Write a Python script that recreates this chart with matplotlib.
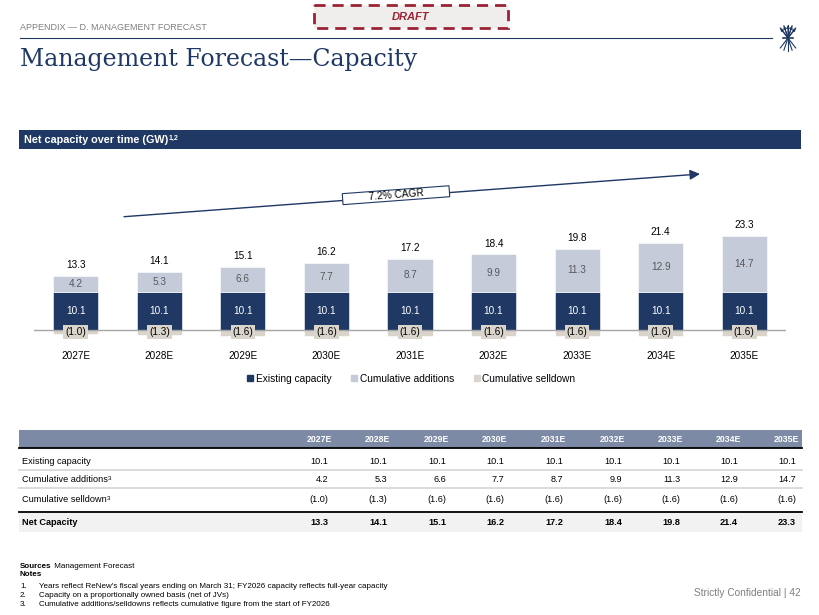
import math
import matplotlib
matplotlib.use('Agg')
import matplotlib.pyplot as plt
from matplotlib import font_manager
from matplotlib.patches import Rectangle
from matplotlib.lines import Line2D

# ---- data -----------------------------------------------------------------
years = ['2027E', '2028E', '2029E', '2030E', '2031E', '2032E', '2033E', '2034E', '2035E']
existing = [10.1, 10.1, 10.1, 10.1, 10.1, 10.1, 10.1, 10.1, 10.1]
additions = [4.2, 5.3, 6.6, 7.7, 8.7, 9.9, 11.3, 12.9, 14.7]
selldown = [-1.0, -1.3, -1.6, -1.6, -1.6, -1.6, -1.6, -1.6, -1.6]
net = [13.3, 14.1, 15.1, 16.2, 17.2, 18.4, 19.8, 21.4, 23.3]
series_names = ['Existing capacity', 'Cumulative additions', 'Cumulative selldown']
row_labels = ['Existing capacity', 'Cumulative additions', 'Cumulative selldown', 'Net Capacity']
row_sup = ['', '3', '3', '']
cagr_label = '7.2% CAGR'
notes = [
    "Years reflect ReNew's fiscal years ending on March 31; FY2026 capacity reflects full-year capacity",
    "Capacity on a proportionally owned basis (net of JVs)",
    "Cumulative additions/selldowns reflects cumulative figure from the start of FY2026",
]

NAVY = '#1f3864'
ADD = '#c6cbd9'
SELL = '#d9d5cc'
HEAD = '#7d8aa5'
MAROON = '#9b2335'
GREY = '#7f7f7f'

installed = {f.name for f in font_manager.fontManager.ttflist}
SANS = 'Liberation Sans' if 'Liberation Sans' in installed else 'DejaVu Sans'
if 'Liberation Sans Narrow' in installed:
    NARROW = 'Liberation Sans Narrow'
    body_fs, head_fs, note_fs = 7.6, 7.0, 6.8
else:
    NARROW = SANS
    body_fs, head_fs, note_fs = 6.6, 6.3, 5.75
plt.rcParams['font.family'] = [SANS, 'DejaVu Sans']


def fmt(v):
    if v < 0:
        return '({:.1f})'.format(abs(v))
    return '{:.1f}'.format(v)


fig = plt.figure(figsize=(8.2, 6.15), dpi=100)

# page overlay in pixel units
page = fig.add_axes([0, 0, 1, 1])
page.set_xlim(0, 820)
page.set_ylim(615, 0)
page.axis('off')

# header
page.text(20, 28, 'APPENDIX \u2014 D. MANAGEMENT FORECAST', fontsize=6.5, color=GREY, va='center')
page.add_patch(Rectangle((314, 5), 194, 23, fc='#f0eeec', ec=MAROON, lw=2, ls=(0, (4, 2.5))))
page.text(411, 17, 'DRAFT', fontsize=8, color=MAROON, fontweight='bold', style='italic',
          ha='center', va='center')
page.plot([20, 772], [38, 38], color=NAVY, lw=0.8)
page.text(20, 66, 'Management Forecast\u2014Capacity', family='DejaVu Serif', fontsize=17,
          color=NAVY, va='baseline')

# logo: a sheaf of arrows
cx, cy = 788, 38
for ang in [-40, -20, 0, 20, 40]:
    dx = 12 * math.sin(math.radians(ang))
    dy = 13 * math.cos(math.radians(ang))
    page.plot([cx - dx, cx + dx], [cy + dy, cy - dy], color=NAVY, lw=0.8)
    page.annotate('', xy=(cx + dx, cy - dy), xytext=(cx, cy),
                  arrowprops=dict(arrowstyle='-|>', color=NAVY, lw=0.8, shrinkA=0, shrinkB=0,
                                  mutation_scale=4))
page.plot([cx - 5, cx + 5], [cy, cy], color=NAVY, lw=1.2)

# band
page.add_patch(Rectangle((19, 130), 782, 19, fc=NAVY, ec='none'))
t = page.text(24.5, 140, 'Net capacity over time (GW)', fontsize=7.8, color='white',
              fontweight='bold', va='center')
page.annotate('1,2', xy=(1, 1), xycoords=t, fontsize=5, color='white', fontweight='bold',
              va='top', ha='left')

# ---- chart -----------------------------------------------------------------
PX = 3.79  # pixels per GW
ymin, ymax = -5, 27
bottom_px = 330 - ymin * PX
top_px = 330 - ymax * PX
ax = fig.add_axes([34 / 820, 1 - bottom_px / 615, 752 / 820, (bottom_px - top_px) / 615])
ax.set_facecolor('none')
x = list(range(len(years)))
w = 0.54
ax.bar(x, existing, width=w, color=NAVY, edgecolor='white', lw=0.4, zorder=2)
ax.bar(x, additions, width=w, bottom=existing, color=ADD, edgecolor='white', lw=0.4, zorder=2)
ax.bar(x, selldown, width=w, color=SELL, edgecolor='white', lw=0.4, zorder=2)
ax.axhline(0, color='#a6a6a6', lw=1, zorder=3)
ax.set_xlim(-0.5, len(years) - 0.5)
ax.set_ylim(ymin, ymax)
for s in ax.spines.values():
    s.set_visible(False)
ax.set_yticks([])
ax.set_xticks(x, years)
ax.tick_params(axis='x', length=0, pad=1.5, labelsize=7.2)

for i in x:
    e, a, s, n = existing[i], additions[i], selldown[i], net[i]
    ax.text(i, e / 2, fmt(e), ha='center', va='center', color='white', fontsize=7.2, zorder=4)
    ax.text(i, e + a / 2, fmt(a), ha='center', va='center', color='#595959', fontsize=7.2, zorder=4)
    ax.text(i, -0.65, fmt(s), ha='center', va='center', color='black', fontsize=7.2, zorder=4,
            bbox=dict(boxstyle='square,pad=0.2', fc=SELL, ec='none'))
    ax.annotate(fmt(n), (i, e + a), xytext=(0, 7.6), textcoords='offset points',
                ha='center', va='center', fontsize=7.2, color='black')

# CAGR arrow
page.annotate('', xy=(700, 174), xytext=(124, 216.7),
              arrowprops=dict(arrowstyle='-|>,head_length=0.6,head_width=0.3', color=NAVY, lw=1,
                              shrinkA=0, shrinkB=0, mutation_scale=10))
page.add_patch(Rectangle((396 - 53.5, 195.2 - 5.5), 107, 11, angle=-4.24, rotation_point='center',
                         fc='white', ec=NAVY, lw=0.8, zorder=3))
page.text(396, 195.2, cagr_label, rotation=4.24, rotation_mode='anchor', ha='center', va='center',
          fontsize=7.3, zorder=4)

handles = [Line2D([], [], marker='s', ls='none', markersize=4, mfc=c, mec=c) for c in [NAVY, ADD, SELL]]
fig.legend(handles, series_names, loc='center', bbox_to_anchor=(411.5 / 820, 1 - 379 / 615), ncol=3,
           frameon=False, fontsize=7.3, handlelength=0.5, handletextpad=0.3, columnspacing=2.0,
           borderaxespad=0, borderpad=0)

# ---- table -----------------------------------------------------------------
col_right = [331.7, 390, 449, 507, 566, 625, 683, 741, 799]
page.add_patch(Rectangle((19, 430), 783, 17.7, fc=HEAD, ec='none'))
for cr, yr in zip(col_right, years):
    page.text(cr, 439, yr, family=NARROW, fontsize=head_fs, fontweight='bold', color='white',
              ha='right', va='center')
page.plot([19, 802], [448.3, 448.3], color='black', lw=1.3)
page.plot([19, 802], [470, 470], color='#d9d9d9', lw=1.3)
page.plot([19, 802], [487.8, 487.8], color='#d9d9d9', lw=1.3)
page.add_patch(Rectangle((19, 513), 783, 19, fc='#f2f2f2', ec='none'))
page.plot([19, 802], [512.3, 512.3], color='black', lw=1.3)

rows = [existing, additions, selldown, net]
row_y = [461, 480, 500, 522.3]
for r, (vals, lab, sup, ry) in enumerate(zip(rows, row_labels, row_sup, row_y)):
    bold = 'bold' if r == 3 else 'normal'
    tl = page.text(21.7, ry, lab, family=NARROW, fontsize=body_fs, fontweight=bold, va='center')
    if sup:
        page.annotate(sup, xy=(1, 1), xycoords=tl, family=NARROW, fontsize=4.5, va='top', ha='left')
    for cr, v in zip(col_right, vals):
        page.text(cr - 3, ry, fmt(v), family=NARROW, fontsize=body_fs, fontweight=bold,
                  ha='right', va='center')

# ---- notes -----------------------------------------------------------------
ts = page.text(20, 567, 'Sources', family=NARROW, fontsize=note_fs, fontweight='bold', va='center')
page.annotate(' Management Forecast', xy=(1, 0), xycoords=ts, family=NARROW, fontsize=note_fs,
              va='bottom', ha='left')
page.text(20, 575, 'Notes', family=NARROW, fontsize=note_fs, fontweight='bold', va='center')
for k, (ny, note) in enumerate(zip([586.7, 595.5, 604.5], notes)):
    page.text(20, ny, '{}.'.format(k + 1), family=NARROW, fontsize=note_fs, va='center')
    page.text(39, ny, note, family=NARROW, fontsize=note_fs, va='center')

page.text(801, 593, 'Strictly Confidential | 42', fontsize=7.3, color=GREY, ha='right', va='center')

fig.savefig('out.png', dpi=100, facecolor='white')
